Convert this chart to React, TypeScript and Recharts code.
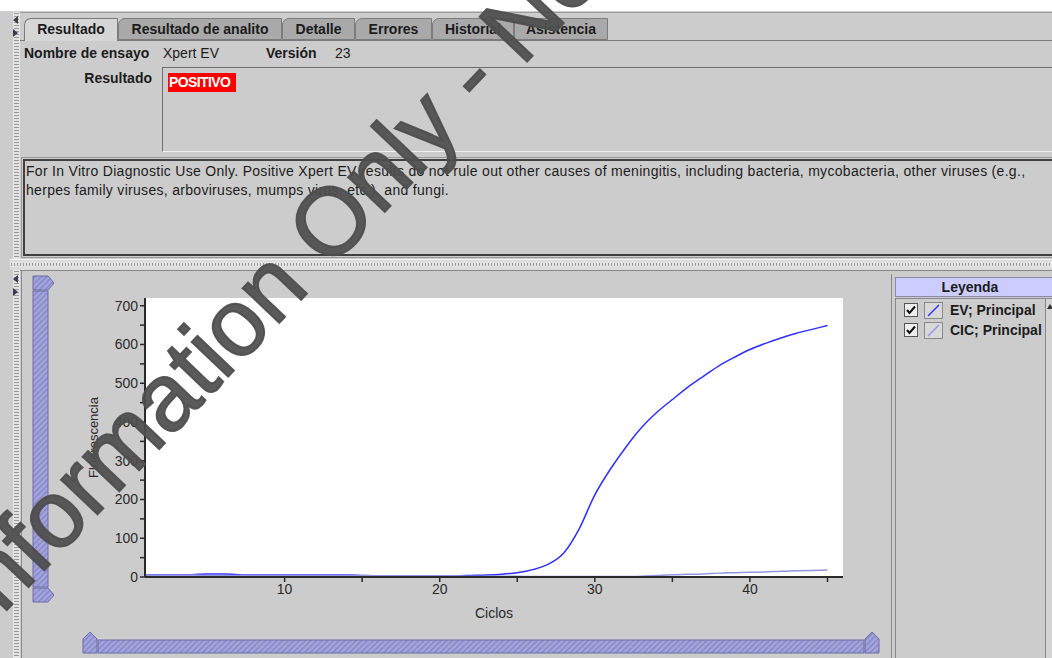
import React from 'react';
import { LineChart, Line, XAxis, YAxis, CartesianGrid } from 'recharts';

// Curva de amplificación Xpert EV – fluorescencia por ciclo
const cycles = [
  1, 2, 3, 4, 5, 6, 7, 8, 9, 10, 11, 12, 13, 14, 15, 16, 17, 18, 19, 20, 21, 22, 23,
  24, 25, 26, 27, 28, 29, 30, 31, 32, 33, 34, 35, 36, 37, 38, 39, 40, 41, 42, 43, 44, 45,
];
const evValues = [
  6, 6, 6, 6, 8, 8, 6, 5, 5, 5, 5, 5, 5, 5, 4, 3, 3, 3, 3, 3, 3, 4, 5,
  7, 11, 19, 33, 62, 125, 212, 278, 335, 385, 425, 458, 490, 518, 545, 567, 587, 603, 617, 629, 639, 649,
];
const cicValues = [
  5, 5, 5, 5, 4, 4, 4, 4, 4, 4, 4, 4, 4, 4, 3, 3, 3, 3, 3, 3, 3, 2, 2,
  2, 2, 1, 1, 1, 1, 1, 1, 1, 2, 4, 6, 7, 8, 10, 11, 12, 13, 15, 16, 17, 18,
];
const seriesNames = ['EV; Principal', 'CIC; Principal'];
const seriesKeys = ['ev', 'cic'];
const seriesColors = ['#2f2fff', '#9494e4'];

const xTicks = [10, 15, 20, 25, 30, 35, 40, 45];
const yTicks = [0, 50, 100, 150, 200, 250, 300, 350, 400, 450, 500, 550, 600, 650, 700];

const tabLabels = ['Resultado', 'Resultado de analito', 'Detalle', 'Errores', 'Historial', 'Asistencia'];
const tabEdges = [24, 118, 282, 355, 432, 514, 608];

const descLines = [
  'For In Vitro Diagnostic Use Only. Positive Xpert EV results do not rule out other causes of meningitis, including bacteria, mycobacteria, other viruses (e.g.,',
  'herpes family viruses, arboviruses, mumps virus, etc.), and fungi.',
];

const data = cycles.map((c, i) => ({ cycle: c, ev: evValues[i], cic: cicValues[i] }));

const FONT = '"Liberation Sans", Arial, sans-serif';
const BG = '#cccccc';

const abs = (left: number, top: number, width: number, height: number, extra: any = {}) => ({
  position: 'absolute' as const,
  left,
  top,
  width,
  height,
  ...extra,
});

function Dots({ x, y, w, h }: { x: number; y: number; w: number; h: number }) {
  const vertical = h > w;
  return (
    <div
      style={abs(x, y, w, h, {
        backgroundImage: vertical
          ? 'repeating-linear-gradient(to bottom, #9a9a9a 0 1px, #e2e2e2 1px 3px)'
          : 'repeating-linear-gradient(to right, #9a9a9a 0 1px, #e2e2e2 1px 3px)',
        boxSizing: 'border-box',
        border: '1px solid #e6e6e6',
      })}
    />
  );
}

function Arrows({ y }: { y: number }) {
  return (
    <svg style={abs(11, y, 8, 22)} width={8} height={22}>
      <polygon points="7,0 7,8 2,4" fill="#3a3a4a" />
      <polygon points="2,13 2,21 7,17" fill="#3a3a4a" />
    </svg>
  );
}

function CheckBox() {
  return (
    <svg width={14} height={14} style={{ display: 'block' }}>
      <rect x={0.5} y={0.5} width={13} height={13} fill="#eeeeee" stroke="#555" />
      <path d="M3 7 L5.5 10 L11 3.5" fill="none" stroke="#111" strokeWidth={2} />
    </svg>
  );
}

export default function App() {
  return (
    <div
      style={{
        position: 'fixed',
        left: 0,
        top: 0,
        width: 1052,
        height: 658,
        background: BG,
        fontFamily: FONT,
        color: '#1c1c1c',
        overflow: 'hidden',
      }}
    >
      {/* panel superior */}
      <div style={abs(0, 0, 1052, 11, { background: '#ffffff' })} />
      <div style={abs(20, 12, 1032, 1, { background: '#9a9a9a' })} />
      <Dots x={13} y={12} w={7} h={247} />
      <Arrows y={16} />

      {tabLabels.map((t, i) => {
        const sel = i === 0;
        return (
          <div
            key={t}
            style={abs(tabEdges[i], 18, tabEdges[i + 1] - tabEdges[i], sel ? 23 : 22, {
              boxSizing: 'border-box',
              background: sel ? '#d6d6d6' : '#a9a9a9',
              border: '1px solid #7c7c7c',
              borderBottom: sel ? 'none' : '1px solid #7c7c7c',
              borderTopLeftRadius: 7,
              fontWeight: 'bold',
              fontSize: 14,
              lineHeight: '21px',
              textAlign: 'center',
              zIndex: sel ? 2 : 1,
            })}
          >
            {t}
          </div>
        );
      })}
      <div style={abs(20, 40, 1032, 1, { background: '#7c7c7c' })} />

      <div style={abs(24, 44, 140, 18, { fontSize: 14, fontWeight: 'bold', lineHeight: '18px' })}>Nombre de ensayo</div>
      <div style={abs(163, 44, 80, 18, { fontSize: 14, lineHeight: '18px' })}>Xpert EV</div>
      <div style={abs(266, 44, 70, 18, { fontSize: 14, fontWeight: 'bold', lineHeight: '18px' })}>Versión</div>
      <div style={abs(335, 44, 30, 18, { fontSize: 14, lineHeight: '18px' })}>23</div>

      <div style={abs(40, 69, 112, 18, { fontSize: 14, fontWeight: 'bold', lineHeight: '18px', textAlign: 'right' })}>
        Resultado
      </div>
      <div
        style={abs(162, 67, 900, 85, {
          boxSizing: 'border-box',
          borderTop: '1px solid #6f6f6f',
          borderLeft: '1px solid #6f6f6f',
          borderBottom: '1px solid #f0f0f0',
        })}
      />
      <div
        style={abs(168, 73, 67, 19, {
          background: '#ff0000',
          color: '#ffffff',
          fontWeight: 'bold',
          fontSize: 14,
          lineHeight: '19px',
          letterSpacing: -0.6,
          paddingLeft: 1,
        })}
      >
        POSITIVO
      </div>

      <div
        style={abs(21, 157, 1040, 101, {
          boxSizing: 'border-box',
          border: '1px solid #9a9a9a',
        })}
      />
      <div
        style={abs(23, 159, 1040, 97, {
          boxSizing: 'border-box',
          border: '2px solid #404040',
        })}
      />
      {descLines.map((l, i) => (
        <div
          key={i}
          style={abs(26, 162 + i * 19, 1024, 19, {
            fontSize: 14,
            lineHeight: '19px',
            whiteSpace: 'nowrap',
            letterSpacing: 0.3,
          })}
        >
          {l}
        </div>
      ))}

      {/* separador */}
      <div style={abs(10, 259, 1042, 11, { background: '#dcdcdc', borderTop: '1px solid #f4f4f4', boxSizing: 'border-box' })} />
      <Dots x={10} y={262} w={1042} h={5} />
      <div style={abs(20, 270, 1032, 1, { background: '#8a8a8a' })} />

      {/* panel inferior */}
      <Dots x={13} y={270} w={7} h={388} />
      <div style={abs(21, 270, 1, 388, { background: '#8a8a8a' })} />
      <Arrows y={275} />

      <svg style={abs(0, 0, 1052, 658, { pointerEvents: 'none' })} width={1052} height={658}>
        <defs>
          <pattern id="hatch" width={4} height={4} patternUnits="userSpaceOnUse" patternTransform="rotate(45)">
            <rect width={4} height={4} fill="#a4a4de" />
            <rect width={1.4} height={4} fill="#8585c4" />
          </pattern>
        </defs>
        <g fill="url(#hatch)" stroke="#6c6ca8" strokeWidth={1}>
          <polygon points="33,276 48,276 54,283 48,290 33,290" />
          <rect x={33} y={291} width={15} height={296} />
          <polygon points="33,588 48,588 54,595 48,602 33,602" />
          <polygon points="83,653 83,639 90,632 97,639 97,653" />
          <rect x={98} y={640} width={766} height={13} />
          <polygon points="865,653 865,639 872,632 879,639 879,653" />
        </g>
      </svg>

      <div style={abs(60, 290, 800, 340)}>
        <LineChart width={800} height={340} data={data} margin={{ top: 8, right: 17, left: 25, bottom: 8 }}>
          <CartesianGrid horizontal={false} vertical={false} fill="#ffffff" />
          <XAxis
            dataKey="cycle"
            type="number"
            domain={[1, 46]}
            ticks={xTicks}
            interval={0}
            height={45}
            tickSize={5}
            tickMargin={2}
            allowDataOverflow
            tickFormatter={(v) => (v % 10 === 0 ? String(v) : '')}
            tick={{ fill: '#2a2a2a', fontSize: 14, fontFamily: FONT }}
            axisLine={{ stroke: '#2a2a2a', strokeWidth: 2 }}
            tickLine={{ stroke: '#2a2a2a', strokeWidth: 1.5 }}
            label={{ value: 'Ciclos', position: 'insideBottom', offset: 4, fill: '#2a2a2a', fontSize: 14, fontFamily: FONT }}
          />
          <YAxis
            type="number"
            domain={[0, 720]}
            ticks={yTicks}
            interval={0}
            width={60}
            tickSize={5}
            tickMargin={2}
            allowDataOverflow
            tickFormatter={(v) => (v % 100 === 0 ? String(v) : '')}
            tick={{ fill: '#2a2a2a', fontSize: 14, fontFamily: FONT }}
            axisLine={{ stroke: '#2a2a2a', strokeWidth: 2 }}
            tickLine={{ stroke: '#2a2a2a', strokeWidth: 1.5 }}
            label={{
              value: 'Fluorescencia',
              angle: -90,
              position: 'insideLeft',
              offset: 8,
              fill: '#2a2a2a',
              fontSize: 13,
              fontFamily: FONT,
              style: { textAnchor: 'middle' },
            }}
          />
          {seriesKeys.map((k, i) => (
            <Line
              key={k}
              type="monotone"
              dataKey={k}
              stroke={seriesColors[i]}
              strokeWidth={1.5}
              dot={false}
              isAnimationActive={false}
            />
          ))}
        </LineChart>
      </div>

      {/* leyenda */}
      <div style={abs(891, 274, 1, 384, { background: '#8a8a8a' })} />
      <div
        style={abs(895, 277, 160, 20, {
          boxSizing: 'border-box',
          background: '#ccccff',
          border: '1px solid #8a8aa8',
          fontWeight: 'bold',
          fontSize: 14,
          lineHeight: '18px',
          textAlign: 'center',
          paddingRight: 10,
        })}
      >
        Leyenda
      </div>
      <div style={abs(895, 298, 160, 360, { boxSizing: 'border-box', borderTop: '1px solid #888', borderLeft: '1px solid #888' })} />
      <div style={abs(1045, 299, 8, 359, { boxSizing: 'border-box', borderLeft: '1px solid #888', background: '#d4d4d4' })} />
      <svg style={abs(1047, 304, 6, 6)} width={6} height={6}>
        <polygon points="3,0 6,5 0,5" fill="#333" />
      </svg>
      {seriesNames.map((name, i) => (
        <div key={name} style={abs(904, 301 + i * 20, 140, 18, { display: 'flex', alignItems: 'center' })}>
          <CheckBox />
          <svg width={19} height={17} style={{ display: 'block', marginLeft: 6 }}>
            <rect x={0.5} y={0.5} width={18} height={16} fill="#d8d8d8" stroke="#8a8a8a" />
            <line x1={4} y1={14} x2={15} y2={3} stroke={seriesColors[i]} strokeWidth={1.5} />
          </svg>
          <span style={{ marginLeft: 7, fontWeight: 'bold', fontSize: 14, whiteSpace: 'nowrap' }}>{name}</span>
        </div>
      ))}

      {/* marca de agua */}
      <svg style={abs(0, 0, 1052, 658, { pointerEvents: 'none', zIndex: 5 })} width={1052} height={658}>
        <text
          x={-16}
          y={634}
          transform="rotate(-46.5 -16 634)"
          fontFamily={FONT}
          fontSize={95}
          fill="#4e4e4e"
          fillOpacity={0.93}
          stroke="#4e4e4e"
          strokeOpacity={0.93}
          strokeWidth={2}
        >
          Information Only - Not
        </text>
      </svg>
    </div>
  );
}
